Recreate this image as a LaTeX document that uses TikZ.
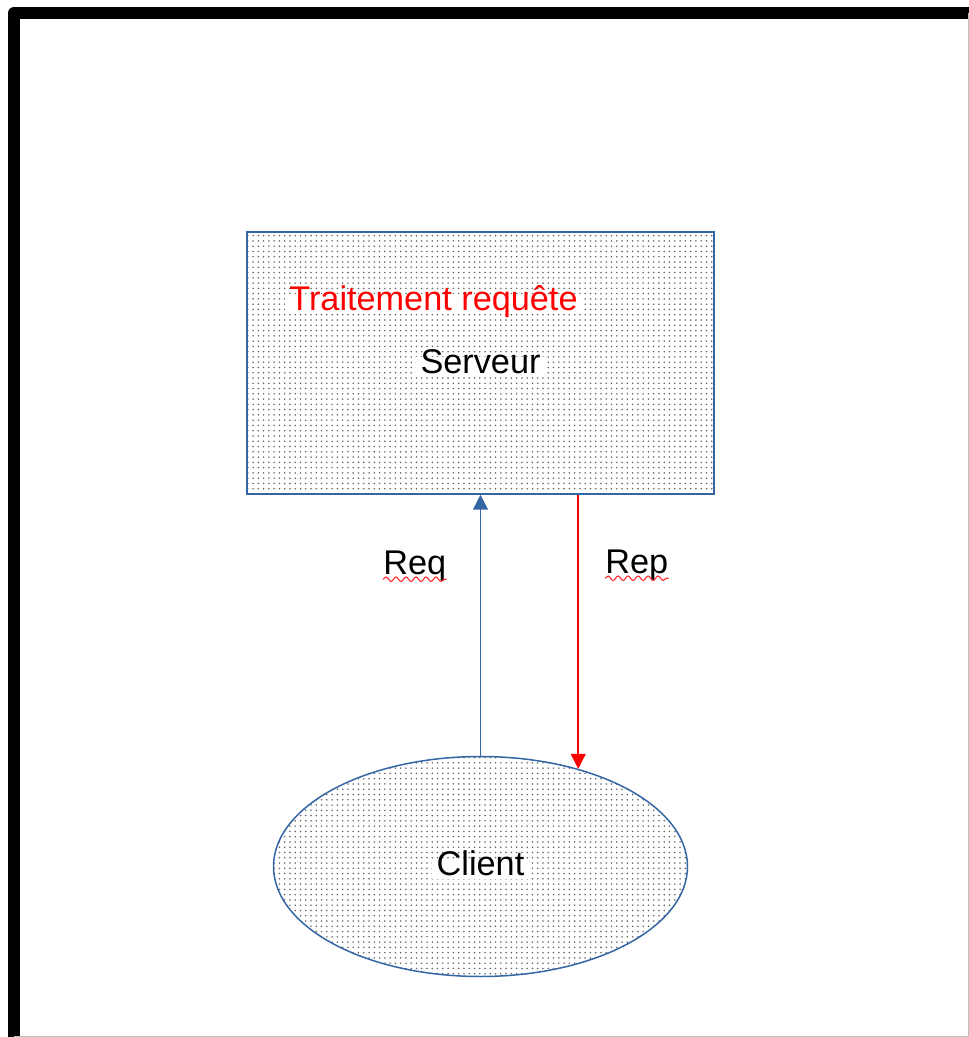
\documentclass[tikz,border=0pt]{standalone}
\usepackage{fontspec}
\setmainfont{Liberation Sans}
\usepackage{xcolor}
\usepackage{tikz}
\usetikzlibrary{positioning,shapes.geometric,arrows.meta,patterns,decorations.pathmorphing}
\definecolor{lobleu}{HTML}{3465A4}

\begin{document}
\begin{tikzpicture}[>={Triangle[width=8.5pt,length=8.5pt]},
  every node/.style={font=\fontsize{19.5}{23}\selectfont},
  boite/.style={draw=lobleu, line width=0.85pt, pattern=dots, pattern color=black!60},
  etiq/.style={fill=white, inner xsep=2.5pt, inner ysep=0pt, text height=0.9em, text depth=0.21em},
  tag/.style={inner sep=0pt},
  souligne/.style={red!80, line width=0.65pt, decorate,
    decoration={snake, segment length=0.2cm, amplitude=0.045cm}}]
% Frame
\useasboundingbox (0,0) rectangle (19.38,-20.74);
\draw[line width=6.8pt, line join=round] (0.28,-20.74) -- (0.28,-0.26) -- (19.38,-0.26);
\draw[gray!50, line width=0.5pt] (0.28,-20.72) -- (19.36,-20.72) -- (19.36,-0.26);

% Server
\node[boite, rectangle, minimum width=9.34cm, minimum height=5.24cm] (serveur) at (9.61,-7.26) {};
\node[etiq, text=red, anchor=base] (traitement) at ([xshift=-0.94cm, yshift=1.06cm]serveur.center) {Traitement requête};
\node[etiq, anchor=base] (nomserveur) at ([yshift=-0.2cm]serveur.center) {Serveur};

% Client
\node[boite, ellipse, minimum width=8.28cm, minimum height=4.4cm, below=5.22cm of serveur] (client) {};
\node[etiq, anchor=base] (nomclient) at ([yshift=-0.18cm]client.center) {Client};

% Request / reply
\draw[->, lobleu, line width=0.85pt] (client.north) -- (serveur.south);
\draw[->, red, line width=0.85pt] (client.45.8 |- serveur.south) -- (client.45.8);
\node[tag, anchor=base east] (req) at ([xshift=-0.68cm, yshift=-1.6cm]serveur.south) {Req};
\node[tag, anchor=base west] (rep) at ([xshift=2.49cm, yshift=-1.58cm]serveur.south) {Rep};
\draw[souligne] ([yshift=-0.09cm]req.base west) -- ([yshift=-0.09cm]req.base east);
\draw[souligne] ([yshift=-0.09cm]rep.base west) -- ([yshift=-0.09cm]rep.base east);
\end{tikzpicture}
\end{document}
